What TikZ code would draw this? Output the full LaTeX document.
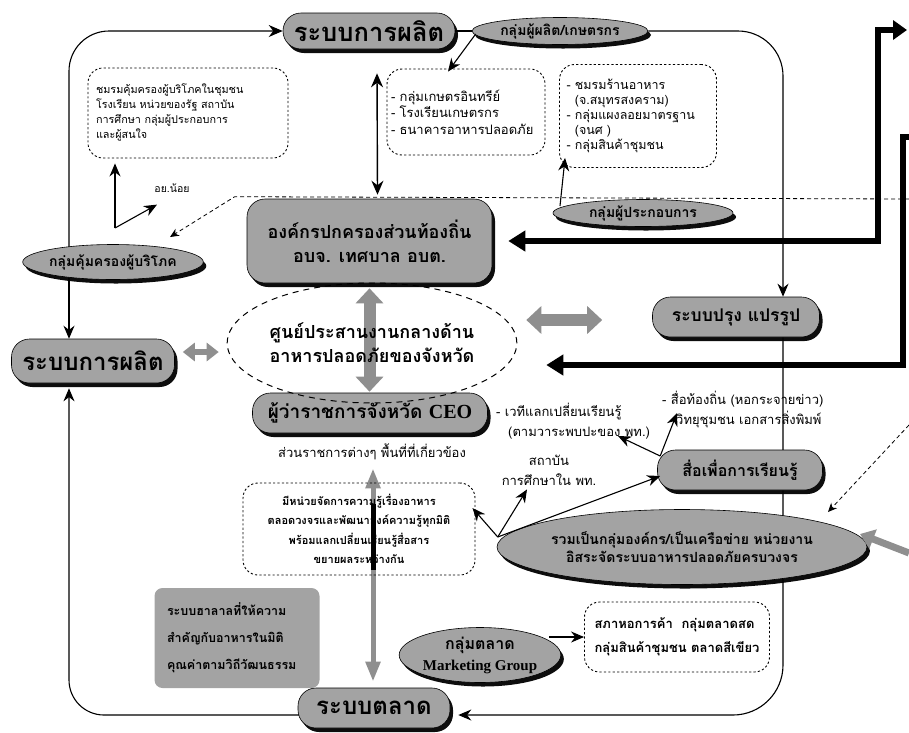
\documentclass[tikz,border=0pt]{standalone}
\usepackage{fontspec}
\setmainfont[Script=Thai]{Loma}
\newfontfamily\serfam{Liberation Serif}
\usetikzlibrary{arrows.meta,shadows,calc,backgrounds,shapes.geometric}
\definecolor{boxgray}{gray}{0.64}
\definecolor{arrgray}{gray}{0.56}
\newcommand\fxl{\fontsize{24}{28}\selectfont\bfseries}
\newcommand\fl{\fontsize{18}{24}\selectfont\bfseries}
\newcommand\fm{\fontsize{14}{18}\selectfont\bfseries}
\newcommand\fs{\fontsize{13}{20}\selectfont}
\newcommand\fsb{\fontsize{11}{19.5}\selectfont\bfseries}
\tikzset{
 shad/.style={drop shadow={shadow xshift=3pt,shadow yshift=-4pt,fill=black,opacity=0.95}},
 pill/.style={draw=black, line width=0.6pt, fill=boxgray, rounded corners=18pt, shad, inner sep=2pt, align=center},
 oval/.style={ellipse, draw=black, line width=0.6pt, fill=boxgray, shad, inner sep=0pt, align=center},
 dotbox/.style={draw=black, line width=0.9pt, dash pattern=on 2.2pt off 2.2pt, rounded corners=15pt, inner sep=0pt},
 arr/.style={line width=1.1pt, -{Stealth[length=13pt,width=11pt]}},
 darr/.style={line width=1.4pt, {Stealth[length=14pt,width=12pt]}-{Stealth[length=14pt,width=12pt]}},
 garr/.style={draw=arrgray, line width=12pt, {Triangle[length=15pt,width=27pt]}-{Triangle[length=15pt,width=27pt]}},
 garrs/.style={draw=arrgray, line width=6pt, {Triangle[length=12pt,width=18pt]}-{Triangle[length=12pt,width=18pt]}},
 garrl/.style={draw=arrgray, line width=5pt, {Triangle[length=20pt,width=14pt]}-{Triangle[length=20pt,width=14pt]}},
 dashln/.style={line width=0.8pt, dash pattern=on 4pt off 3pt},
 thk/.style={line width=5.5pt, line join=miter},
 lbl/.style={inner sep=0pt, font=\fs, align=left}
}
\begin{document}
\begin{tikzpicture}[x=1pt,y=-1pt]
\useasboundingbox (0,0) rectangle (909,732);
\coordinate (xl) at (69,0);
\coordinate (xr) at (783,0);
\coordinate (ybot) at (0,715);

% nodes
\node[pill, minimum width=172pt, minimum height=36pt, font=\fontsize{25.5}{28}\selectfont\bfseries] (topprod) at (369,31) {ระบบการผลิต};
\node[oval, minimum width=176pt, minimum height=27pt, font=\fm] (farmers) at (560,31) {กลุ่มผู้ผลิต/เกษตรกร};
\node[dotbox, minimum width=200pt, minimum height=90pt, text width=184pt, align=left, font=\fontsize{10.8}{15}\selectfont] (b1) at (188,113)
 {ชมรมคุ้มครองผู้บริโภคในชุมชน\\โรงเรียน หน่วยของรัฐ สถาบัน\\การศึกษา กลุ่มผู้ประกอบการ\\และผู้สนใจ};
\node[dotbox, minimum width=158pt, minimum height=86pt, text width=150pt, align=left, font=\fontsize{13}{16.5}\selectfont] (b2) at (466,112)
 {- กลุ่มเกษตรอินทรีย์\\- โรงเรียนเกษตรกร\\- ธนาคารอาหารปลอดภัย};
\node[dotbox, minimum width=157pt, minimum height=103pt, text width=143pt, align=left, font=\fontsize{12.5}{14.8}\selectfont] (b3) at (638,116)
 {- ชมรมร้านอาหาร\\\phantom{- }(จ.สมุทรสงคราม)\\- กลุ่มแผงลอยมาตรฐาน\\\phantom{- }(จนศ )\\- กลุ่มสินค้าชุมชน};
\node[inner sep=0pt, font=\fontsize{10.5}{13}\selectfont] (ay) at (172,188) {อย.น้อย};
\node[pill, minimum width=245pt, minimum height=84pt, font=\fl] (lgo) at (369.5,241)
 {องค์กรปกครองส่วนท้องถิ่น\\อบจ. เทศบาล อบต.};
\node[oval, minimum width=180pt, minimum height=35pt, font=\fm] (consumer) at (113,262) {กลุ่มคุ้มครองผู้บริโภค};
\node[oval, minimum width=180pt, minimum height=27pt, font=\fm] (ent) at (643,213) {กลุ่มผู้ประกอบการ};
\node[pill, minimum width=163pt, minimum height=44pt, font=\fxl] (leftprod) at (93,361) {ระบบการผลิต};
\node[pill, minimum width=167pt, minimum height=40pt, font=\fontsize{17.5}{21}\selectfont\bfseries] (cook) at (736,317) {ระบบปรุง แปรรูป};
\node[pill, minimum width=235pt, minimum height=40pt, font=\fontsize{19}{22}\selectfont\bfseries] (ceo) at (370,413)
 {ผู้ว่าราชการจังหวัด {\serfam\fontsize{20}{22}\selectfont CEO}};
\node[lbl] (gov) at (372,452) {ส่วนราชการต่างๆ พื้นที่ที่เกี่ยวข้อง};
\node[dotbox, minimum width=232pt, minimum height=92pt, align=center, font=\fsb] (know) at (359,529)
 {มีหน่วยจัดการความรู้เรื่องอาหาร\\ตลอดวงจรและพัฒนาองค์ความรู้ทุกมิติ\\พร้อมแลกเปลี่ยนเรียนรู้สื่อสาร\\ขยายผลระหว่างกัน};
\node[fill=boxgray, rounded corners=8pt, minimum width=165pt, minimum height=100pt, text width=140pt, align=left,
 font=\fontsize{12.5}{27}\selectfont\bfseries, inner sep=0pt] (halal) at (237,638)
 {ระบบฮาลาลที่ให้ความ\\สำคัญกับอาหารในมิติ\\คุณค่าตามวิถีวัฒนธรรม};
\node[pill, minimum width=152pt, minimum height=40pt, font=\fxl] (market) at (374,708) {ระบบตลาด};
\node[oval, minimum width=140pt, minimum height=55pt, font=\fontsize{16}{21}\selectfont\bfseries] (mkt) at (480,655)
 {กลุ่มตลาด\\{\serfam\fontsize{15}{17}\selectfont Marketing Group}};
\node[dotbox, minimum width=185pt, minimum height=70pt, align=left, font=\fontsize{13}{24}\selectfont\bfseries, inner sep=0pt] (mktbox) at (677,637)
 {สภาหอการค้า\ \ กลุ่มตลาดสด\\กลุ่มสินค้าชุมชน ตลาดสีเขียว};
\node[pill, minimum width=165pt, minimum height=40pt, font=\fontsize{16}{20}\selectfont\bfseries] (media) at (740,470) {สื่อเพื่อการเรียนรู้};
\node[oval, minimum width=320pt, minimum height=75pt, font=\fm] (bigell) at (682,547)
 {รวมเป็นกลุ่มองค์กร/เป็นเครือข่าย หน่วยงาน\\อิสระจัดระบบอาหารปลอดภัยครบวงจร};
\node[lbl, align=center] (inst) at (549,470) {สถาบัน\\การศึกษาใน พท.};
\node[lbl, anchor=west] (forum) at (496,421) {- เวทีแลกเปลี่ยนเรียนรู้\\\hspace*{12pt}(ตามวาระพบปะของ พท.)};
\node[lbl, anchor=west] (mlocal) at (662,409) {- สื่อท้องถิ่น (หอกระจายข่าว)\\\hspace*{14pt}วิทยุชุมชน เอกสารสิ่งพิมพ์};
\node[ellipse, draw=black, line width=1pt, dash pattern=on 6pt off 5pt, minimum width=254pt, minimum height=120pt,
 font=\fl, align=center, inner sep=0pt] (ctr) at (372,343) {ศูนย์ประสานงานกลางด้าน\\อาหารปลอดภัยของจังหวัด};

% background lines
\begin{scope}[on background layer]
 \draw[dashln, -{Stealth[length=9pt,width=8pt]}] (909,199) -- ($(lgo.north west)+(-12,-2)$) -- ($(consumer.center)+(57,-25)$);
 \draw[line width=1.1pt, rounded corners=40pt, -{Stealth[length=14pt,width=12pt]}] (consumer.center -| xl) |- (topprod.west);
 \draw[arr] (consumer.center -| xl) -- (leftprod.north -| xl);
 \draw[arr, rounded corners=35pt] (market.center |- ybot) -| ($(leftprod.south -| xl)+(0,5)$);
 \draw[arr, rounded corners=45pt] (farmers.east) -| (cook.north -| xr);
 \draw[arr, rounded corners=50pt] (cook.center -| xr) |- ($(market.east |- ybot)+(8,0)$);
 \draw[garr] ($(lgo.south)+(0,5)$) -- ($(lgo.south |- ceo.north)+(0,-1)$);
 \draw[garrs] ($(leftprod.east)+(8,-9)$) -- ($(ctr.west |- leftprod.east)+(-8,-9)$);
 \draw[garr] ($(ctr.east)+(9,-23)$) -- ($(cook.west)+(-50,3)$);
 \draw[garrl] ($(gov.south)+(1,8)$) -- ($(market.north)+(-1,-6)$);
 \draw[line width=5pt] ($(gov.south)+(1,44)$) -- ($(gov.south)+(1,110)$);
\end{scope}

% connectors
\draw[line width=1.1pt] (topprod.east) -- (farmers.west);
\draw[arr] ($(farmers.west)+(4,3)$) -- ($(b2.north)+(-18,3)$);
\draw[darr] ($(topprod.south)+(8,24)$) -- ($(lgo.north)+(8,-4)$);
\draw[arr] ($(ent.center)+(-83,-7)$) -- ($(b3.south west)+(6,-10)$);
\coordinate (ayc) at (115,228);
\draw[arr] (ayc) -- ($(ayc |- b1.south)+(0,5)$);
\draw[arr] (ayc) -- ($(ay.south)+(-15,12)$);

\draw[thk, {Triangle[length=17pt,width=20pt]}-{Triangle[length=14pt,width=19pt]}]
 ($(lgo.east)+(16,0)$) -| (878,30) -- (907,30);
\draw[thk, -{Triangle[length=17pt,width=20pt]}] (909,137) -- (903,137) |- ($(ctr.east)+(29,22)$);

\draw[dashln, -{Stealth[length=9pt,width=8pt]}] (909,425) -- ($(bigell.center)+(146,-35)$);
\draw[draw=arrgray, line width=7pt, -{Triangle[length=14pt,width=20pt]}] (909,553) -- (860,534);

\coordinate (hub) at ($(bigell.west)+(1,-10)$);
\draw[arr] (hub) -- ($(know.east)+(-3,-21)$);
\draw[arr] (hub) -- ($(inst.south)+(-22,4)$);
\draw[arr] (hub) -- ($(media.west)+(3,6)$);
\coordinate (hub2) at ($(media.west)+(3,-14)$);
\draw[arr] (hub2) -- (618,436);
\draw[arr] (hub2) -- (677,413);
\draw[arr] ($(mkt.east |- mktbox.west)+(-12,0)$) -- (mktbox.west);
\end{tikzpicture}
\end{document}
